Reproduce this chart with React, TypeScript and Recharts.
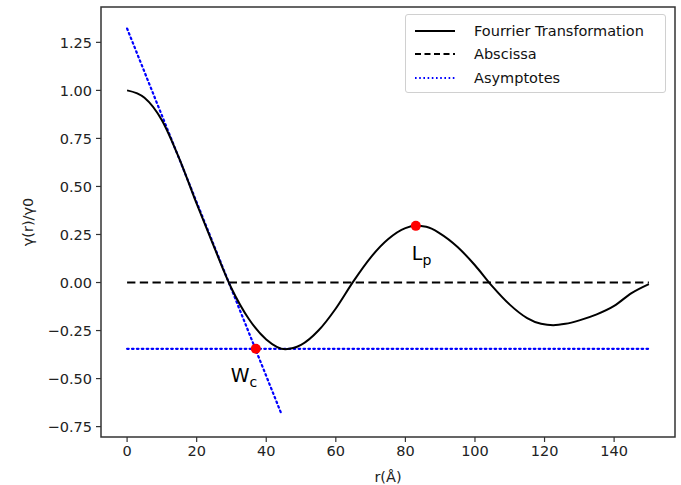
import React from "react"
import { ComposedChart, Line, Scatter, XAxis, YAxis, ReferenceArea } from "recharts"

// radial distance r (Å) and normalised correlation γ(r)/γ0
const rValues = [0, 5, 10, 15, 20, 25, 30, 35, 40, 45.5, 50, 55, 60, 65, 70, 75, 80, 83, 86, 90, 95, 100, 105, 110, 115, 119, 122.5, 126, 130, 135, 140, 145, 150]
const gammaValues = [1.0, 0.962, 0.845, 0.645, 0.41, 0.185, -0.03, -0.19, -0.296, -0.347, -0.325, -0.25, -0.135, 0.005, 0.13, 0.225, 0.283, 0.295, 0.29, 0.255, 0.185, 0.09, -0.02, -0.115, -0.185, -0.215, -0.222, -0.215, -0.197, -0.166, -0.122, -0.055, -0.008]

// abscissa y = 0
const abscissaR = [0, 150]
const abscissaY = [0, 0]

// asymptotes
const slopeR = [0, 44.5]
const slopeY = [1.322, -0.69]
const plateauR = [0, 150]
const plateauY = [-0.345, -0.345]

// marked points
const markR = [37, 83]
const markY = [-0.345, 0.295]
const markName = ["W", "L"]
const markSub = ["c", "p"]

const xTicks = [0, 20, 40, 60, 80, 100, 120, 140]
const yTicks = [-0.75, -0.5, -0.25, 0, 0.25, 0.5, 0.75, 1.0, 1.25]

const legendItems = [
  { label: "Fourrier Transformation", color: "#000", dash: undefined as string | undefined },
  { label: "Abscissa", color: "#000", dash: "6 3.5" },
  { label: "Asymptotes", color: "#0000ff", dash: "1.6 2.6" },
]

const fourier = rValues.map((r, i) => ({ r, g: gammaValues[i] }))
const abscissa = abscissaR.map((r, i) => ({ r, g: abscissaY[i] }))
const slope = slopeR.map((r, i) => ({ r, g: slopeY[i] }))
const plateau = plateauR.map((r, i) => ({ r, g: plateauY[i] }))
const marks = markR.map((r, i) => ({ r, g: markY[i], name: markName[i], sub: markSub[i] }))

const FONT = "DejaVu Sans, sans-serif"
const fmtY = (v: number) => (v < 0 ? "\u2212" + Math.abs(v).toFixed(2) : v.toFixed(2))

function MarkShape(props: any) {
  const { cx, cy, payload } = props
  const isW = payload.name === "W"
  return (
    <g>
      <circle cx={cx} cy={cy} r={5} fill="#ff0000" />
      <text x={cx + (isW ? -25 : -4)} y={cy + (isW ? 33 : 34)} fontFamily={FONT} fontSize={19} fill="#000">
        {payload.name}
        <tspan dy={5} fontSize={14}>{payload.sub}</tspan>
      </text>
    </g>
  )
}

// legend drawn as an overlay so it does not take room from the plot
function LegendBox() {
  return (
    <div style={{ position: "absolute", left: 405, top: 14, width: 259, height: 77, border: "1px solid #d0d0d0", borderRadius: 3, background: "#fff", fontFamily: FONT, fontSize: 14.5, color: "#111" }}>
      {legendItems.map((it, i) => (
        <div key={i} style={{ display: "flex", alignItems: "center", height: 23.5, marginTop: i === 0 ? 4 : 0 }}>
          <svg width={68} height={12} style={{ display: "block" }}>
            <line x1={9} x2={49} y1={6} y2={6} stroke={it.color} strokeWidth={2} strokeDasharray={it.dash} />
          </svg>
          <span>{it.label}</span>
        </div>
      ))}
    </div>
  )
}

export default function App() {
  return (
    <div style={{ position: "absolute", left: 0, top: 0, width: 681, height: 485, background: "#fff" }}>
      <ComposedChart width={681} height={485} margin={{ top: 7, right: 6, left: 0, bottom: 0 }}>
        <XAxis
          dataKey="r"
          type="number"
          domain={[-7.5, 157.5]}
          ticks={xTicks}
          allowDataOverflow
          height={48}
          tickSize={5}
          tickMargin={4}
          axisLine={false}
          tickLine={{ stroke: "#333", strokeWidth: 1.2 }}
          tick={{ fontFamily: FONT, fontSize: 14.5, fill: "#222" }}
          label={({ viewBox }: any) => (
            <text x={viewBox.x + viewBox.width / 2} y={482} textAnchor="middle" fontFamily={FONT} fontSize={14.5} fill="#222">r(Å)</text>
          )}
        />
        <YAxis
          type="number"
          domain={[-0.804, 1.434]}
          ticks={yTicks}
          allowDataOverflow
          width={101}
          tickSize={5}
          tickMargin={4}
          axisLine={false}
          tickLine={{ stroke: "#333", strokeWidth: 1.2 }}
          tickFormatter={fmtY}
          tick={{ fontFamily: FONT, fontSize: 14.5, fill: "#222" }}
          label={({ viewBox }: any) => (
            <text x={33} y={viewBox.y + viewBox.height / 2} transform={`rotate(-90, 33, ${viewBox.y + viewBox.height / 2})`} textAnchor="middle" fontFamily={FONT} fontSize={14.5} fill="#222">γ(r)/γ0</text>
          )}
        />
        <ReferenceArea x1={-7.5} x2={157.5} y1={-0.804} y2={1.434} fill="none" stroke="#333" strokeWidth={1.5} ifOverflow="visible" />
        <Line data={abscissa} dataKey="g" type="linear" stroke="#000" strokeWidth={2} strokeDasharray="8.3 4.4" dot={false} isAnimationActive={false} />
        <Line data={slope} dataKey="g" type="linear" stroke="#0000ff" strokeWidth={2.2} strokeDasharray="1.6 3.3" strokeLinecap="round" dot={false} isAnimationActive={false} />
        <Line data={plateau} dataKey="g" type="linear" stroke="#0000ff" strokeWidth={2.2} strokeDasharray="1.6 3.3" strokeLinecap="round" dot={false} isAnimationActive={false} />
        <Line data={fourier} dataKey="g" type="monotone" stroke="#000" strokeWidth={2} dot={false} isAnimationActive={false} />
        <Scatter data={marks} dataKey="g" shape={MarkShape} isAnimationActive={false} />
      </ComposedChart>
      <LegendBox />
    </div>
  )
}
